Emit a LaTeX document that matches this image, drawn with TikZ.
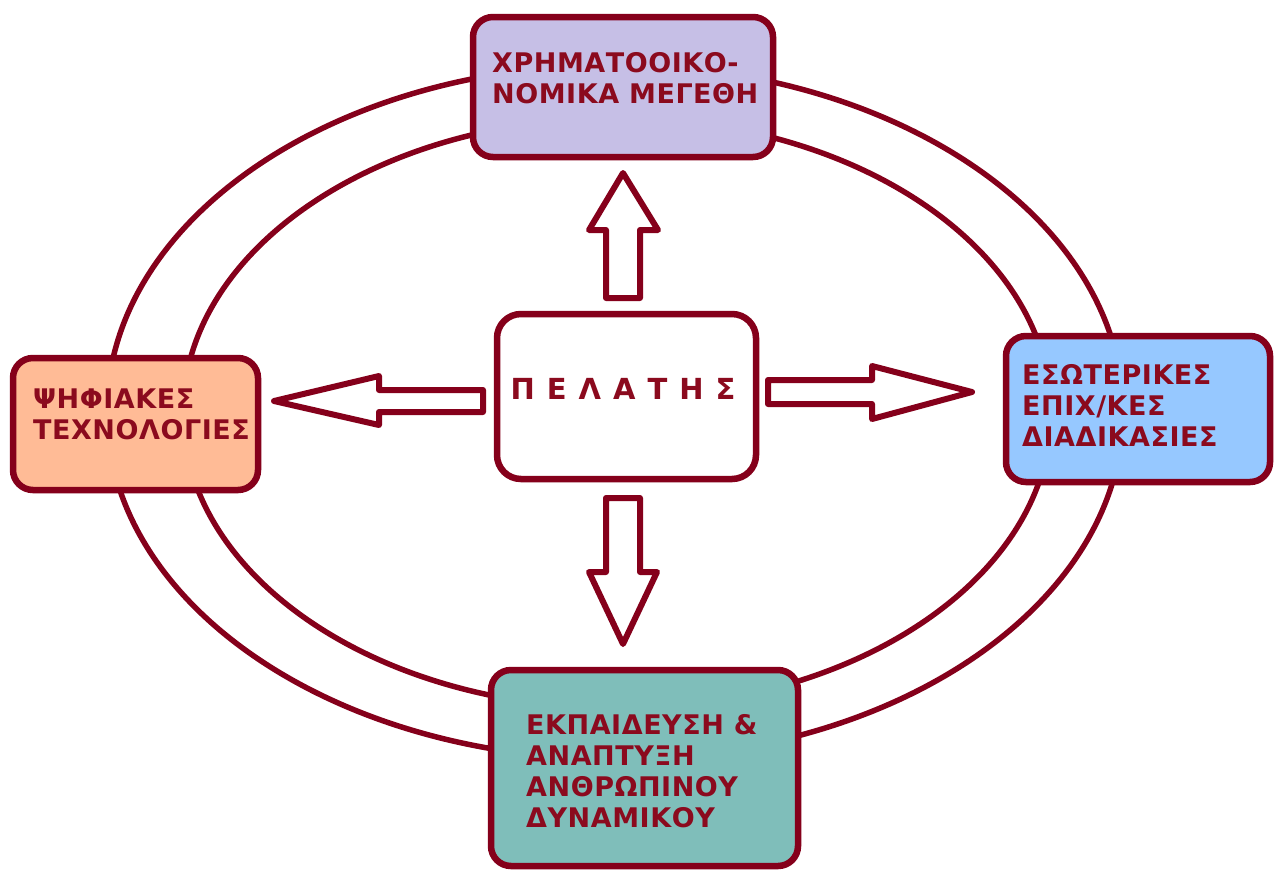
\documentclass[tikz,border=0pt]{standalone}
\usepackage{fontspec}
\newfontfamily\lblfont{DejaVu Sans}[LetterSpace=2]
\newfontfamily\mainlbl{DejaVu Sans}
\definecolor{ringc}{RGB}{133,0,27}
\definecolor{txtc}{RGB}{139,10,30}
\definecolor{finc}{RGB}{198,191,230}
\definecolor{techc}{RGB}{255,187,150}
\definecolor{procc}{RGB}{150,200,255}
\definecolor{educ}{RGB}{127,190,186}
\tikzset{
  ring/.style={draw=ringc, line width=5.5pt},
  box/.style={draw=ringc, line width=6.5pt, rounded corners=20pt, inner sep=0pt, outer sep=0pt},
  lbl/.style={anchor=north west, inner sep=0pt, align=left, text=txtc,
    font=\lblfont\bfseries\fontsize{27}{31}\selectfont},
  blockarrow/.style={draw=ringc, fill=white, line width=6pt, line join=round}
}
\begin{document}
\begin{tikzpicture}[x=1pt, y=-1pt]
  \fill[white] (0,0) rectangle (1276,871);
  \useasboundingbox (0,0) rectangle (1276,871);

  % the two concentric rings
  \draw[ring] (615,412) ellipse [x radius=508pt, y radius=347pt];
  \draw[ring] (617,413) ellipse [x radius=434pt, y radius=295pt];

  % the four outer boxes
  \node[box, fill=finc,  minimum width=300pt, minimum height=140pt] (fin)  at (623,87)   {};
  \node[box, fill=techc, minimum width=245pt, minimum height=132pt] (tech) at (135.5,424) {};
  \node[box, fill=procc, minimum width=264pt, minimum height=146pt] (proc) at (1138,409) {};
  \node[box, fill=educ,  minimum width=307pt, minimum height=196pt] (edu)  at (644.5,768) {};

  \node[lbl] (finT)  at (492,52)  {ΧΡΗΜΑΤΟΟΙΚΟ-\\ΝΟΜΙΚΑ ΜΕΓΕΘΗ};
  \node[lbl] (techT) at (33,389)  {ΨΗΦΙΑΚΕΣ\\ΤΕΧΝΟΛΟΓΙΕΣ};
  \node[lbl] (procT) at (1022,364) {ΕΣΩΤΕΡΙΚΕΣ\\ΕΠΙΧ/ΚΕΣ\\ΔΙΑΔΙΚΑΣΙΕΣ};
  \node[lbl] (eduT)  at (526,714) {ΕΚΠΑΙΔΕΥΣΗ \&\\ΑΝΑΠΤΥΞΗ\\ΑΝΘΡΩΠΙΝΟΥ\\ΔΥΝΑΜΙΚΟΥ};

  % central box
  \node[box, fill=white, rounded corners=24pt, minimum width=259pt, minimum height=165pt] (client) at (626.5,396.5) {};
  \node[inner sep=0pt, text=txtc, font=\mainlbl\bfseries\fontsize{29}{34}\selectfont]
    (clientT) at (623,389) {\spaceskip=12pt Π Ε Λ Α Τ Η Σ};

  % block arrows from the centre outwards
  \draw[blockarrow] (606,298) -- (606,230) -- (589,230) -- (623,173) -- (658,230) -- (640,230) -- (640,298) -- cycle;
  \draw[blockarrow] (606,498) -- (606,572) -- (589,572) -- (623,644) -- (657,572) -- (640,572) -- (640,498) -- cycle;
  \draw[blockarrow] (483,390) -- (379,390) -- (379,376) -- (274,401) -- (379,425) -- (379,412) -- (483,412) -- cycle;
  \draw[blockarrow] (768,380) -- (872,380) -- (872,366) -- (972,392) -- (872,419) -- (872,404) -- (768,404) -- cycle;
\end{tikzpicture}
\end{document}
